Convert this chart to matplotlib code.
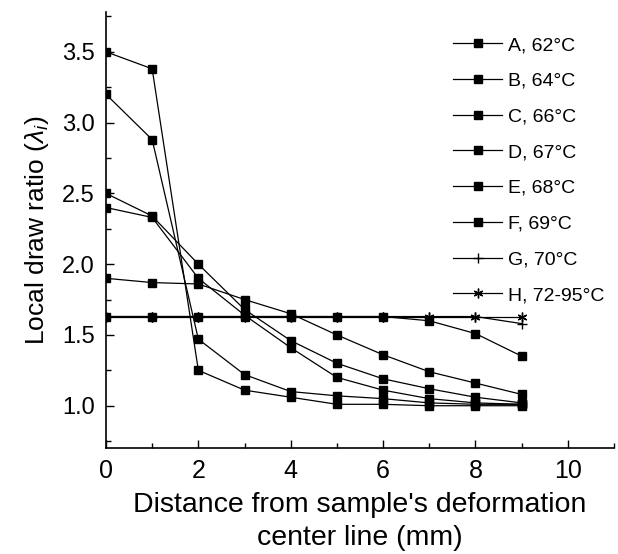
import numpy as np
import matplotlib
matplotlib.use("Agg")
import matplotlib.pyplot as plt
from matplotlib.ticker import MultipleLocator

plt.rcParams['font.family'] = ['Liberation Sans', 'DejaVu Sans']
plt.rcParams['mathtext.fontset'] = 'custom'
plt.rcParams['mathtext.rm'] = 'Liberation Sans'
plt.rcParams['mathtext.it'] = 'Liberation Sans:italic'

# distance from centre line (mm)
x = [0, 1, 2, 3, 4, 5, 6, 7, 8, 9]

# local draw ratio
A = [3.50, 3.38, 1.25, 1.11, 1.06, 1.01, 1.01, 1.00, 1.00, 1.00]
B = [3.20, 2.88, 1.47, 1.22, 1.10, 1.07, 1.05, 1.02, 1.01, 1.01]
C = [2.50, 2.34, 2.00, 1.68, 1.46, 1.30, 1.19, 1.12, 1.06, 1.02]
D = [2.40, 2.33, 1.90, 1.64, 1.41, 1.20, 1.11, 1.05, 1.02, 1.01]
E = [1.90, 1.87, 1.86, 1.75, 1.65, 1.50, 1.36, 1.24, 1.16, 1.08]
F = [1.63, 1.63, 1.63, 1.63, 1.63, 1.63, 1.63, 1.60, 1.51, 1.35]
G = [1.63, 1.63, 1.63, 1.63, 1.63, 1.63, 1.63, 1.63, 1.63, 1.58]
H = [1.63, 1.63, 1.63, 1.63, 1.63, 1.63, 1.63, 1.63, 1.63, 1.63]

labels = ['A, 62°C', 'B, 64°C', 'C, 66°C', 'D, 67°C',
          'E, 68°C', 'F, 69°C', 'G, 70°C', 'H, 72-95°C']

fig = plt.figure(figsize=(6.18, 5.54), dpi=100)
ax = fig.add_axes([0.1715, 0.191, 0.822, 0.787])

for y in [A, B, C, D, E, F]:
    ax.plot(x, y, color='black', lw=0.9, marker='s', ms=6)
ax.plot(x, G, color='black', lw=0.9, marker='+', ms=7, mew=1)
ax.plot(x, H, color='black', lw=0.9, marker=(6, 2, 0), ms=7, mew=1)

ax.set_xlim(0, 11)
ax.set_ylim(0.7, 3.78)
ax.xaxis.set_major_locator(MultipleLocator(2))
ax.xaxis.set_minor_locator(MultipleLocator(1))
ax.yaxis.set_minor_locator(MultipleLocator(0.25))
ax.set_yticks([1.0, 1.5, 2.0, 2.5, 3.0, 3.5])
ax.tick_params(which='both', direction='in', width=1)
ax.tick_params(which='major', length=6)
ax.tick_params(which='minor', length=3.5)
ax.tick_params(axis='y', labelsize=17, pad=8)
ax.tick_params(axis='x', labelsize=18, pad=8)
for s in ['top', 'right']:
    ax.spines[s].set_visible(False)
for s in ['left', 'bottom']:
    ax.spines[s].set_linewidth(1.2)

ax.set_xlabel("Distance from sample's deformation\ncenter line (mm)",
              fontsize=20.5, labelpad=6, linespacing=1.35)
ax.set_ylabel(r'Local draw ratio ($\lambda_i$)', fontsize=19, labelpad=8)

ax.legend(labels, loc='upper right', frameon=False, fontsize=14,
          handlelength=2.5, labelspacing=0.93, handletextpad=0.3,
          bbox_to_anchor=(0.99, 0.948), bbox_transform=fig.transFigure,
          borderaxespad=0)

fig.savefig('out.png', dpi=100)
